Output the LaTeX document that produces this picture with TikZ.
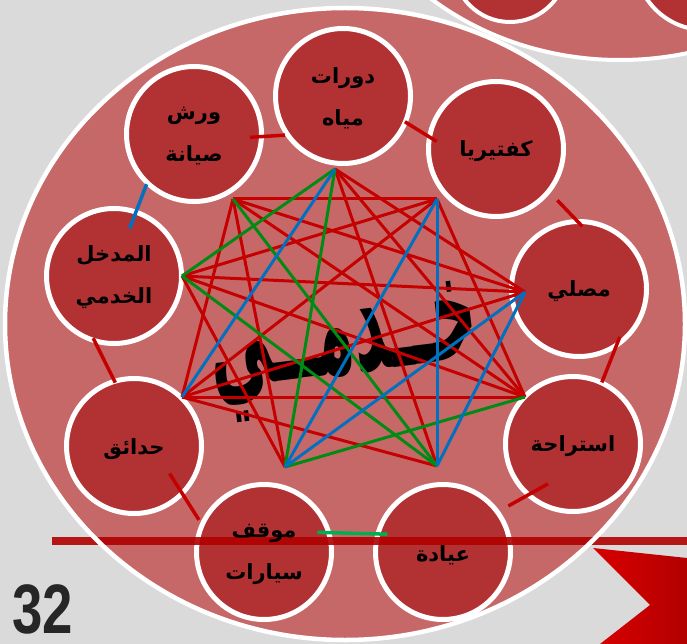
\documentclass[tikz,border=0pt]{standalone}
\usepackage{graphicx}
\usepackage{fontspec}
\newfontfamily\arabicfont[Script=Arabic]{DejaVu Sans}
\newfontfamily\numfont{Liberation Sans}
\TeXXeTstate=1
\usepackage{tikz}
\usetikzlibrary{calc}
\definecolor{bgGrey}{RGB}{218,218,218}
\definecolor{ringPink}{RGB}{199,104,104}
\definecolor{zoneRed}{RGB}{178,50,52}
\definecolor{edgeRed}{RGB}{196,0,0}
\definecolor{edgeGreen}{RGB}{0,140,20}
\definecolor{edgeBlue}{RGB}{0,112,192}
\definecolor{stubGreen}{RGB}{0,176,80}
\definecolor{bandRed}{RGB}{176,0,0}
\definecolor{numGrey}{RGB}{38,38,38}

\begin{document}
\begin{tikzpicture}[x=1pt,y=-1pt,
  zone/.style={circle, draw=white, line width=5pt, fill=zoneRed, minimum size=135pt, inner sep=0pt},
  zonetext/.style={font=\arabicfont\bfseries\fontsize{21}{42}\selectfont, align=center, inner sep=0pt},
  rel/.style={line width=3pt},
  stub/.style={line width=3.5pt}]
\useasboundingbox (0,0) rectangle (687,644);
\clip (0,0) rectangle (687,644);
\fill[bgGrey] (0,0) rectangle (687,644);
% Second ring (top right, cut off)
\fill[ringPink] (620,-200) ellipse [x radius=293pt, y radius=260pt];
\draw[white, line width=4pt] (620,-200) ellipse [x radius=293pt, y radius=260pt];
\draw[white, line width=4pt, fill=zoneRed] (510,-35) circle (57pt);
\draw[white, line width=4pt, fill=zoneRed] (705,-40) circle (70pt);
% Main ring
\fill[ringPink] (345,324) ellipse [x radius=340pt, y radius=316pt];
% Zones on the ring
\node[zone] (dawrat)   at (343,96)  {};
\node[zone] (warsh)    at (194,134) {};
\node[zone] (kafe)     at (496,149) {};
\node[zone] (musalla)  at (579,289) {};
\node[zone] (istiraha) at (573,444) {};
\node[zone] (iyada)    at (443,552) {};
\node[zone] (mawqif)   at (264,552) {};
\node[zone] (hadaiq)   at (134,446) {};
\node[zone] (madkhal)  at (114,276) {};
% Central word
\node[rotate=7, inner sep=0pt] (word) at (345,352)
  {\resizebox{270pt}{78pt}{\arabicfont\bfseries\beginR خــدمــي\endR}};
% Star corners
\coordinate (A) at (335,169);
\coordinate (B) at (233,199);
\coordinate (C) at (437,199);
\coordinate (D) at (182,276);
\coordinate (E) at (525,292);
\coordinate (F) at (182,397);
\coordinate (G) at (525,397);
\coordinate (H) at (285,467);
\coordinate (I) at (437,466);
% Relations
\foreach \u/\v in {A/E,A/G,A/I,B/C,B/E,B/F,B/G,B/H,C/D,C/F,C/G,D/E,D/G,D/H,E/F,F/G,F/I}
  \draw[rel, edgeRed] (\u) -- (\v);
\foreach \u/\v in {A/D,A/H,B/I,D/I,G/H}
  \draw[rel, edgeGreen] (\u) -- (\v);
\foreach \u/\v in {A/F,C/H,C/I,E/H,E/I}
  \draw[rel, edgeBlue] (\u) -- (\v);
% Band
\fill[bandRed, opacity=0.9] (52,537) rectangle (687,545);
% Links between neighbouring zones
\draw[stub, edgeRed, shorten <=-14pt, shorten >=0pt] (warsh.-2) -- (dawrat.214);
\draw[stub, edgeRed, shorten <=-3pt, shorten >=-11pt] (dawrat.-23) -- (kafe.169);
\draw[stub, edgeRed, shorten <=10pt, shorten >=-10pt] (kafe.-39) -- (musalla.93);
\draw[stub, edgeRed, shorten <=-13pt, shorten >=-2pt] (musalla.-59) -- (istiraha.65);
\draw[stub, edgeRed, shorten <=-25pt, shorten >=10pt] (istiraha.228) -- (iyada.36);
\draw[stub, stubGreen, shorten <=-14pt, shorten >=-12pt] (mawqif.16) -- (iyada.165);
\draw[stub, edgeRed, shorten <=3pt, shorten >=-26pt] (mawqif.155) -- (hadaiq.-45);
\draw[stub, edgeRed, shorten <=-4pt, shorten >=-6pt] (hadaiq.107) -- (madkhal.-105);
\draw[stub, edgeBlue, shorten <=-20pt, shorten >=-1pt] (madkhal.71) -- (warsh.227);
% Ring border
\draw[white, line width=4.5pt] (345,324) ellipse [x radius=340pt, y radius=316pt];
% Zone names
\node[zonetext] (t-dawrat)   at ($(dawrat)+(0,2)$)   {\beginR دورات\endR\\\beginR مياه\endR};
\node[zonetext] (t-warsh)    at ($(warsh)+(0,2)$)    {\beginR ورش\endR\\\beginR صيانة\endR};
\node[zonetext] (t-kafe)     at ($(kafe)+(0,2)$)     {\beginR كفتيريا\endR};
\node[zonetext] (t-musalla)  at ($(musalla)+(0,2)$)  {\beginR مصلي\endR};
\node[zonetext] (t-istiraha) at ($(istiraha)+(0,2)$) {\beginR استراحة\endR};
\node[zonetext] (t-iyada)    at ($(iyada)+(0,3)$)    {\beginR عيادة\endR};
\node[zonetext] (t-mawqif)   at ($(mawqif)+(0,2)$)   {\beginR موقف\endR\\\beginR سيارات\endR};
\node[zonetext] (t-hadaiq)   at ($(hadaiq)+(0,3)$)   {\beginR حدائق\endR};
\node[zonetext] (t-madkhal)  at ($(madkhal)+(0,1)$)  {\beginR المدخل\endR\\\beginR الخدمي\endR};
% Arrow, bottom right
\shade[left color=red!85!black, right color=red!70!black] (593,548) -- (687,558) -- (687,644) -- (600,644) -- (650,605) -- cycle;
% Page number
\node[font=\numfont\bfseries\fontsize{70}{70}\selectfont, text=numGrey, inner sep=0pt] (page) at (43,609) {\scalebox{0.78}[1]{32}};
\end{tikzpicture}
\end{document}
